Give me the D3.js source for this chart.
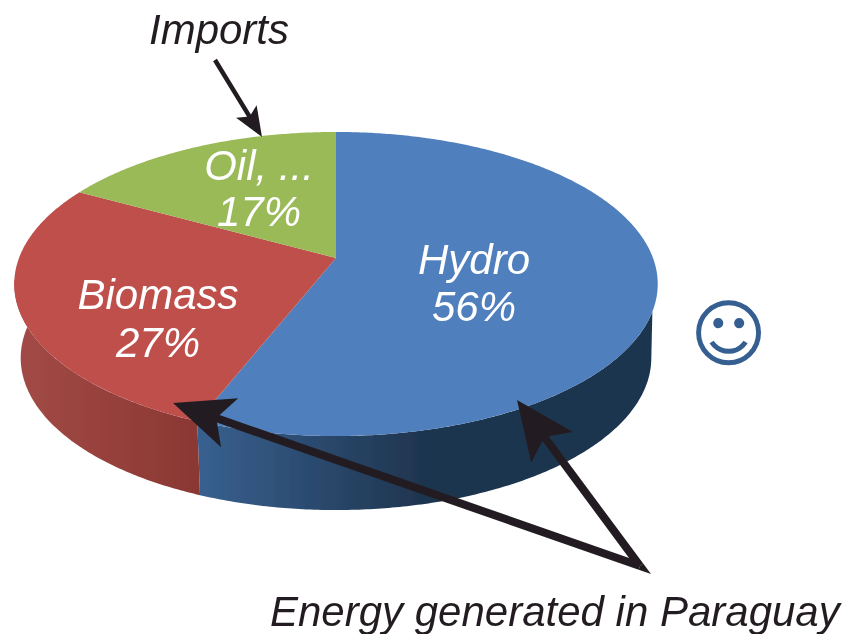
<!DOCTYPE html>
<html><head><meta charset="utf-8">
<script src="https://cdn.jsdelivr.net/npm/d3@7"></script>
<style>html,body{margin:0;padding:0;background:#fff}svg{display:block}
text{font-family:"Liberation Sans",Arial,sans-serif;font-style:italic}</style>
</head><body><svg id="c" width="842" height="634"></svg>
<script>
const sliceNames = ["Hydro", "Biomass", "Oil, ..."];
const sliceShares = [56, 27, 17];
const sliceColors = ["#4f7fbc", "#be4f4c", "#9aba59"];
const sideStops = [["#38608f", "#1f3550"], ["#a24a46", "#8a3733"]];

const svg = d3.select("#c");
const defs = svg.append("defs");
defs.append("filter").attr("id","soft").attr("x","-5%").attr("y","-5%").attr("width","110%").attr("height","110%")
  .append("feGaussianBlur").attr("stdDeviation",0.65);
const root = svg.append("g").attr("filter","url(#soft)");

// Perspective projection of the pie disc
const cx = 336, apexY = 258, B = 317, A = 147.6, k = 0.171, depth = 74, shrink = 0.98;
const top2 = a => { const u = Math.sin(a), v = -Math.cos(a), w = 1 - k*v; return [cx + B*u/w, apexY + A*v/w]; };
const bot2 = a => { const p = top2(a); return [cx + (p[0]-cx)*shrink, p[1] + depth]; };
const rad = d3.scaleLinear().domain([0,180]).range([0,Math.PI]);
const line = d3.line();
const sweep = (a0,a1,f) => { const n = Math.max(2,Math.ceil(Math.abs(a1-a0)/0.01)); return d3.range(n+1).map(i=>f(a0+(a1-a0)*i/n)); };

const arcs = d3.pie().sort(null).value(d=>d)(sliceShares);

// side walls: Hydro and Biomass are the slices visible at the front
const walls = [
  {i:0, t0:rad(110), t1:arcs[0].endAngle, b0:rad(100), b1:arcs[0].endAngle, x0:200, x1:420},
  {i:1, t0:arcs[1].startAngle, t1:rad(262), b0:arcs[1].startAngle, b1:rad(272), x0:20, x1:200}
];
walls.forEach((w,j)=>{
  const g = defs.append("linearGradient").attr("id","side"+j).attr("gradientUnits","userSpaceOnUse")
    .attr("x1",w.x0).attr("x2",w.x1).attr("y1",0).attr("y2",0);
  const s = sideStops[j];
  g.append("stop").attr("offset",0).attr("stop-color",s[0]);
  g.append("stop").attr("offset",1).attr("stop-color",s[1]);
  const pts = sweep(w.t0,w.t1,top2).concat(sweep(w.b1,w.b0,bot2));
  root.append("path").attr("d",line(pts)+"Z").attr("fill","url(#side"+j+")");
});

// top faces
root.selectAll("path.face").data(arcs).join("path").attr("class","face")
  .attr("fill",(d,i)=>sliceColors[i])
  .attr("d",d=>line([[cx,apexY]].concat(sweep(d.startAngle,d.endAngle,top2)))+"Z");

// labels
const fontSize = 42;
const labels = [
  {i:0, x:474, y:[274,321]},
  {i:1, x:158, y:[309,357]},
  {i:2, x:259, y:[180,226]}
];
labels.forEach(l=>{
  root.append("text").attr("x",l.x).attr("y",l.y[0]).attr("text-anchor","middle").attr("font-size",fontSize).attr("fill","#fff").text(sliceNames[l.i]);
  root.append("text").attr("x",l.x).attr("y",l.y[1]).attr("text-anchor","middle").attr("font-size",fontSize).attr("fill","#fff").text(sliceShares[l.i]+"%");
});
root.append("text").attr("x",219).attr("y",44).attr("text-anchor","middle").attr("font-size",fontSize).attr("fill","#231f20").text("Imports");
root.append("text").attr("x",270).attr("y",626).attr("font-size",fontSize).attr("fill","#231f20").text("Energy generated in Paraguay");

// arrows
function arrow(tail,tip,sw,L,W,notch){
  const dx=tip[0]-tail[0],dy=tip[1]-tail[1],len=Math.hypot(dx,dy),ux=dx/len,uy=dy/len,nx=-uy,ny=ux;
  const at=(d,o)=>[tip[0]-ux*d+nx*o,tip[1]-uy*d+ny*o];
  const pts=[tip,at(L,W),at(notch,sw/2),[tail[0]+nx*sw/2,tail[1]+ny*sw/2],[tail[0]-nx*sw/2,tail[1]-ny*sw/2],at(notch,-sw/2),at(L,-W)];
  root.append("path").attr("d",line(pts)+"Z").attr("fill","#231f20");
}
arrow([215,60],[262,137],4.5,30,12,25);
arrow([640,566],[517,400],8,59,26,48);
arrow([640,566],[173,403],8,60,26,48);
root.append("path").attr("d",line([[638.7,569.8],[651,574],[643.2,563.6],[640,566]])+"Z").attr("fill","#231f20");

// smiley
root.append("text").attr("x",728.5).attr("y",360).attr("text-anchor","middle")
  .attr("font-size",74).attr("fill","#365f91").style("font-family","'DejaVu Sans'").style("font-style","normal").text("\u263A");
</script></body></html>
